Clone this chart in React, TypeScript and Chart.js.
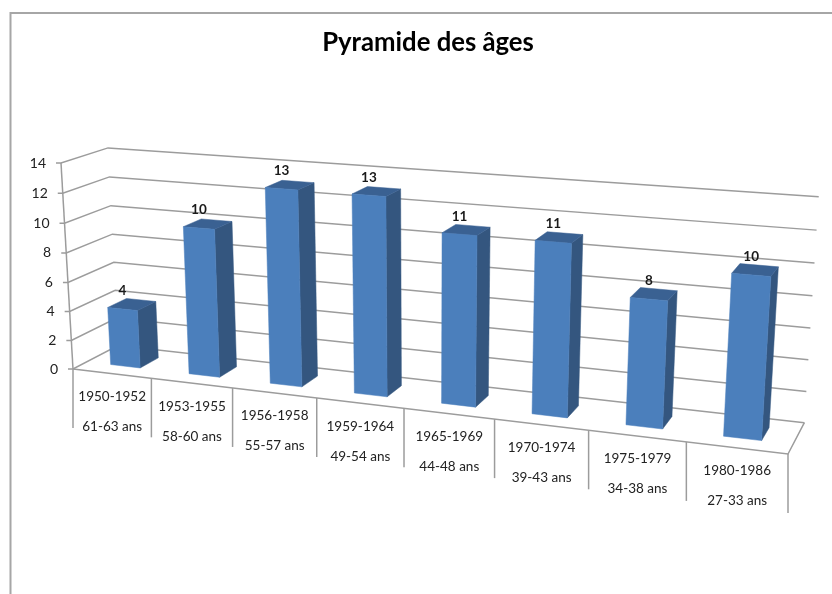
import React, { useEffect, useRef } from "react";
import { Chart, registerables } from "chart.js";

Chart.register(...registerables);

const periods = ["1950-1952", "1953-1955", "1956-1958", "1959-1964", "1965-1969", "1970-1974", "1975-1979", "1980-1986"];
const ageRanges = ["61-63 ans", "58-60 ans", "55-57 ans", "49-54 ans", "44-48 ans", "39-43 ans", "34-38 ans", "27-33 ans"];
const headcount = [4, 10, 13, 13, 11, 11, 8, 10];
const chartTitle = "Pyramide des âges";

// Projective camera of the 3-D box (unit cube u: categories, v: values, d: depth)
const ORIGIN = [73, 369];
const U_END = [788, 454];
const V_END = [61, 163];
const D_END = [118, 345.5];
const PERSPECTIVE = { a: -0.138, b: -0.033, c: 0.045 };
const GRID = "#9c9c9c";
const TEXT = "#222222";
const FONT = "Lato";

function project(u: number, v: number, d: number): [number, number] {
  const { a, b, c } = PERSPECTIVE;
  const w = 1 + a * u + b * v + c * d;
  const at = (i: number) =>
    (ORIGIN[i] +
      u * ((1 + a) * U_END[i] - ORIGIN[i]) +
      v * ((1 + b) * V_END[i] - ORIGIN[i]) +
      d * ((1 + c) * D_END[i] - ORIGIN[i])) /
    w;
  return [at(0), at(1)];
}

function path(ctx: CanvasRenderingContext2D, pts: [number, number][], fill?: string) {
  ctx.beginPath();
  pts.forEach((p, i) => (i ? ctx.lineTo(p[0], p[1]) : ctx.moveTo(p[0], p[1])));
  if (fill) {
    ctx.closePath();
    ctx.fillStyle = fill;
    ctx.fill();
    ctx.strokeStyle = fill;
    ctx.lineWidth = 0.5;
    ctx.stroke();
  } else {
    ctx.stroke();
  }
}

const box3d = {
  id: "box3d",
  afterDatasetsDraw(chart: any) {
    const { ctx, scales } = chart;
    const xs = scales.x;
    const ys = scales.y;
    const uOf = (px: number) => (px - xs.left) / xs.width;
    const vOf = (val: number) => (ys.bottom - ys.getPixelForValue(val)) / ys.height;
    const slot = xs.width / periods.length;

    ctx.save();
    // chart frame
    ctx.strokeStyle = "#a6a6a6";
    ctx.lineWidth = 2;
    path(ctx, [[832, 13], [10.5, 13], [10.5, 594]]);

    // walls and floor
    ctx.strokeStyle = GRID;
    ctx.lineWidth = 1.5;
    ctx.font = `14px ${FONT}`;
    ctx.fillStyle = TEXT;
    ctx.textAlign = "right";
    ctx.textBaseline = "middle";
    ys.ticks.forEach((t: any) => {
      const v = vOf(t.value);
      const front = project(0, v, 0);
      path(ctx, [[front[0] - 5, front[1]], front, project(0, v, 1), project(1, v, 1)]);
      ctx.fillText(String(t.value), front[0] - 15, front[1]);
    });
    path(ctx, [project(0, 0, 0), project(0, 1, 0)]);
    path(ctx, [project(0, 0, 0), project(1, 0, 0), project(1, 0, 1)]);

    // category separators and labels
    ctx.font = `13.5px ${FONT}`;
    ctx.textAlign = "center";
    periods.forEach((label, i) => {
      const left = xs.getPixelForValue(i) - slot / 2;
      const a = project(uOf(left), 0, 0);
      const b = project(uOf(left + slot), 0, 0);
      path(ctx, [a, [a[0], a[1] + 59]]);
      if (i === periods.length - 1) path(ctx, [b, [b[0], b[1] + 59]]);
      const cx = (a[0] + b[0]) / 2;
      const cy = (a[1] + b[1]) / 2;
      ctx.fillStyle = TEXT;
      ctx.fillText(label, cx, cy + 23);
      ctx.fillText(ageRanges[i], cx, cy + 53);
    });

    // bars
    const D0 = 0.3;
    const D1 = 0.72;
    chart.getDatasetMeta(0).data.forEach((bar: any, i: number) => {
      const u0 = uOf(bar.x - bar.width / 2);
      const u1 = uOf(bar.x + bar.width / 2);
      const top = (ys.bottom - bar.y) / ys.height;
      const base = (ys.bottom - bar.base) / ys.height;
      path(ctx, [project(u1, base, D0), project(u1, base, D1), project(u1, top, D1), project(u1, top, D0)], "#34567f");
      path(ctx, [project(u0, top, D0), project(u1, top, D0), project(u1, top, D1), project(u0, top, D1)], "#3a6192");
      path(ctx, [project(u0, base, D0), project(u1, base, D0), project(u1, top, D0), project(u0, top, D0)], "#4b7fbc");
      const lbl = project(uOf(bar.x), top, D0);
      ctx.font = `bold 13.5px ${FONT}`;
      ctx.fillStyle = "#1a1a1a";
      ctx.textAlign = "center";
      ctx.fillText(String(headcount[i]), lbl[0], lbl[1] - 18);
    });
    ctx.restore();
  },
};

export default function App() {
  const ref = useRef<HTMLCanvasElement>(null);
  useEffect(() => {
    const chart = new Chart(ref.current!, {
      type: "bar",
      data: {
        labels: periods,
        datasets: [
          {
            data: headcount,
            backgroundColor: "transparent",
            categoryPercentage: 0.38,
            barPercentage: 1,
          },
        ],
      },
      plugins: [box3d],
      options: {
        responsive: false,
        animation: false,
        layout: { padding: { left: 24, top: 27, bottom: 60 } },
        plugins: {
          legend: { display: false },
          tooltip: { enabled: false },
          title: {
            display: true,
            text: chartTitle,
            color: "#000",
            font: { family: FONT, size: 25.7, weight: "bold" },
            padding: { top: 0, bottom: 0 },
          },
        },
        scales: {
          x: { display: false },
          y: { display: false, min: 0, max: 14, ticks: { stepSize: 2 } },
        },
      },
    } as any);
    return () => chart.destroy();
  }, []);
  return (
    <div style={{ position: "absolute", left: 0, top: 0, width: 832, height: 594, background: "#fff" }}>
      <canvas ref={ref} width={832} height={594} style={{ display: "block", filter: "blur(0.4px)" }} />
    </div>
  );
}
